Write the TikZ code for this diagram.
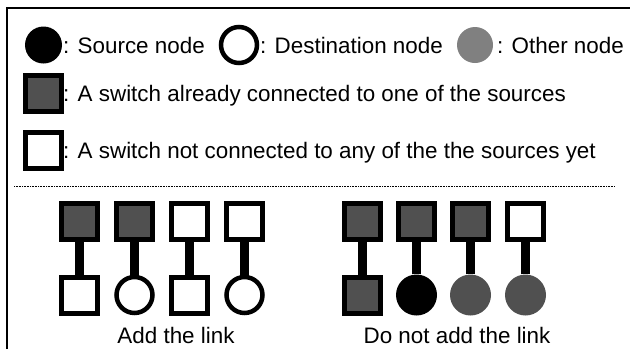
\documentclass[tikz,border=0pt]{standalone}
\usepackage{fontspec}
\setmainfont{Liberation Sans}
\definecolor{swgray}{RGB}{80,80,80}
\definecolor{othgray}{RGB}{128,128,128}
\begin{document}
\begin{tikzpicture}[x=1pt,y=-1pt,
  lbl/.style={inner sep=0pt,font=\fontsize{22.4}{26}\selectfont},
  srcnode/.style={circle,fill=black,minimum size=37pt,inner sep=0pt},
  dstnode/.style={circle,draw=black,fill=white,line width=4.5pt,minimum size=36pt,inner sep=0pt},
  othnode/.style={circle,minimum size=36pt,inner sep=0pt},
  swbox/.style={rectangle,draw=black,line width=5pt,minimum size=36pt,inner sep=0pt},
  stem/.style={line width=9.5pt,draw=black},
  framel/.style={line width=1.5pt,draw=black},
  sepline/.style={line width=1pt,draw=black,dash pattern=on 1pt off 0.6pt}]
\useasboundingbox (0,0) rectangle (630,349);
\fill[white] (0,0) rectangle (630,349);

% outer frame (top and left edges)
\coordinate (fbl) at (7,349);
\coordinate (ftl) at (7,8);
\coordinate (ftr) at (630,8);
\draw[framel] (fbl) -- (ftl) -- (ftr);

% legend, first row
\node[srcnode] (lsrc) at (43.5,45) {};
\node[lbl,anchor=base west] (tsrc) at (63,53) {: Source node};
\node[dstnode] (ldst) at (239,45) {};
\node[lbl,anchor=base west] (tdst) at (260,53) {: Destination node};
\node[othnode,fill=othgray] (loth) at (475,45) {};
\node[lbl,anchor=base west] (toth) at (497,53) {: Other node};

% legend, switch rows
\node[swbox,fill=swgray] (lcon) at (43,93) {};
\node[lbl,anchor=base west] (tcon) at (63,101) {: A switch already connected to one of the sources};
\node[swbox,fill=white] (lfree) at (43,150) {};
\node[lbl,anchor=base west] (tfree) at (63,158) {: A switch not connected to any of the the sources yet};

% separator
\coordinate (sepa) at (14,186);
\coordinate (sepb) at (615,186);
\draw[sepline] (sepa) -- (sepb);

% links that are added
\node[swbox,fill=swgray] (a1) at (79.5,221) {};
\node[swbox,fill=white]  (b1) at (79.5,295) {};
\node[swbox,fill=swgray] (a2) at (134.5,221) {};
\node[dstnode]           (b2) at (134.5,295) {};
\node[swbox,fill=white]  (a3) at (189.5,221) {};
\node[swbox,fill=white]  (b3) at (189.5,295) {};
\node[swbox,fill=white]  (a4) at (244.5,221) {};
\node[dstnode]           (b4) at (244.5,295) {};
\foreach \i in {1,...,4} \draw[stem] (a\i) -- (b\i);
\node[lbl,anchor=base] (tadd) at (176,343) {Add the link};

% links that are not added
\node[swbox,fill=swgray] (c1) at (362.5,221) {};
\node[swbox,fill=swgray] (d1) at (362.5,295) {};
\node[swbox,fill=swgray] (c2) at (416.5,221) {};
\node[srcnode,minimum size=41pt] (d2) at (416.5,295) {};
\node[swbox,fill=swgray] (c3) at (470.5,221) {};
\node[othnode,fill=swgray,minimum size=41pt] (d3) at (470.5,295) {};
\node[swbox,fill=white]  (c4) at (525.5,221) {};
\node[othnode,fill=swgray,minimum size=41pt] (d4) at (525.5,295) {};
\foreach \i in {1,...,4} \draw[stem] (c\i) -- (d\i);
\node[lbl,anchor=base] (tnot) at (457,343) {Do not add the link};
\end{tikzpicture}
\end{document}
